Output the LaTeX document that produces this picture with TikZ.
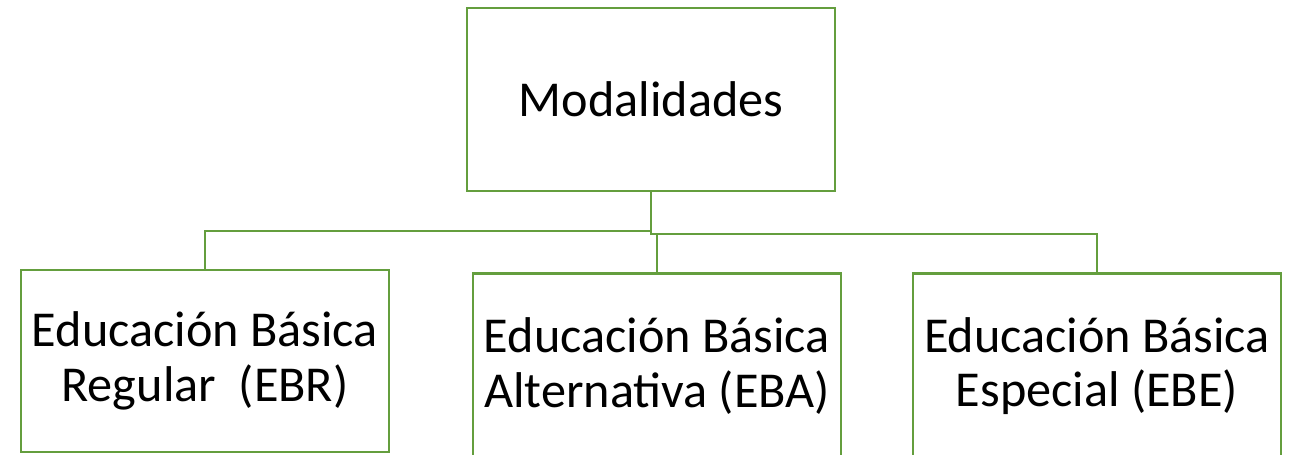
\documentclass[tikz,border=0pt]{standalone}
\usepackage{fontspec}
\setmainfont{Carlito}
\definecolor{boxgreen}{RGB}{100,158,62}
\begin{document}
\begin{tikzpicture}[x=0.02cm,y=-0.02cm,
    box/.style={draw=boxgreen,line width=1.4pt,minimum width=7.36cm,
      inner sep=0pt,align=center,font=\fontsize{28.6}{31}\selectfont},
    link/.style={draw=boxgreen,line width=1.4pt}]
        \useasboundingbox (0,0) rectangle (1291,455);
        \node[box,minimum height=3.66cm] (mod) at (651,99.5) {Modalidades};
        \node[box,minimum height=3.64cm] (ebr) at (205,361) {Educación Básica\\Regular\ \ (EBR)};
        \node[box,minimum height=3.7cm] (eba) at (657,366) {Educación Básica\\Alternativa (EBA)};
        \node[box,minimum height=3.7cm] (ebe) at (1097,366) {Educación Básica\\Especial (EBE)};
        \coordinate (jl) at (651,231);
        \coordinate (jr) at (651,234);
        \coordinate (jm) at (657,234);
        \draw[link] (mod.south) -- (jl) -| (ebr.north);
        \draw[link] (mod.south) -- (jr) -| (ebe.north);
        \draw[link] (jm) -- (eba.north);
    \end{tikzpicture}
\end{document}
